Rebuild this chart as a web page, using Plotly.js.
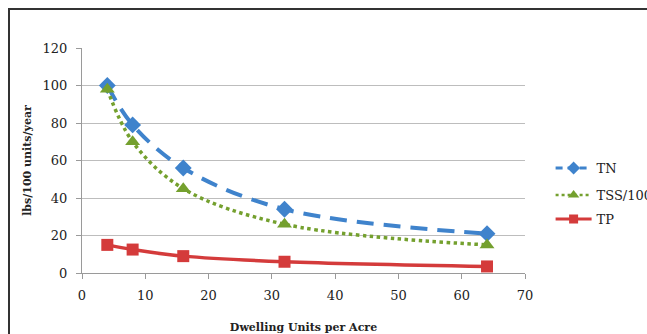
<!DOCTYPE html>
<html>
<head>
<meta charset="utf-8">
<script src="https://cdn.plot.ly/plotly-3.0.1.min.js"></script>
<style>
html,body{margin:0;padding:0;background:#fff;overflow:hidden;}
#chart{width:647px;height:334px;}
#frame{position:absolute;left:8px;top:8px;width:700px;height:400px;border:2px solid #333;pointer-events:none;box-sizing:border-box;}
</style>
</head>
<body>
<div id="chart"></div>
<div id="frame"></div>
<script>
var density = [4, 8, 16, 32, 64];
var tn = [100, 79, 56, 34, 21];
var tss100 = [98, 70, 45, 26, 15];
var tp = [15, 12.5, 9, 6, 3.5];
var seriesNames = ['TN', 'TSS/100', 'TP'];

var serif = '"DejaVu Serif", serif';
var colors = ['#3f83cc', '#74a02e', '#d43b3b'];

var traces = [
  {x: density, y: tn, name: seriesNames[0], type: 'scatter', mode: 'lines+markers', showlegend: false,
   line: {color: colors[0], width: 4, dash: '17px,10px', shape: 'spline'},
   marker: {symbol: 'diamond', size: 13, color: colors[0]}},
  {x: density, y: tss100, name: seriesNames[1], type: 'scatter', mode: 'lines+markers', showlegend: false,
   line: {color: colors[1], width: 3.5, dash: 'dot', shape: 'spline'},
   marker: {symbol: 'triangle-up', size: 13, color: colors[1]}},
  {x: density, y: tp, name: seriesNames[2], type: 'scatter', mode: 'lines+markers', showlegend: false,
   line: {color: colors[2], width: 3.5, shape: 'spline'},
   marker: {symbol: 'square', size: 12, color: colors[2]}},
  {x: [null], y: [null], name: seriesNames[0], type: 'scatter', mode: 'lines+markers', legend: 'legend',
   line: {color: colors[0], width: 3, dash: '7px,5px'}, marker: {symbol: 'diamond', size: 10, color: colors[0]}},
  {x: [null], y: [null], name: seriesNames[1], type: 'scatter', mode: 'lines+markers', legend: 'legend2',
   line: {color: colors[1], width: 2.5, dash: 'dot'}, marker: {symbol: 'triangle-up', size: 10, color: colors[1]}},
  {x: [null], y: [null], name: seriesNames[2], type: 'scatter', mode: 'lines+markers', legend: 'legend3',
   line: {color: colors[2], width: 3}, marker: {symbol: 'square', size: 9, color: colors[2]}}
];

function leg(y){
  return {xref: 'container', yref: 'container', x: 0.851, y: y, xanchor: 'left', yanchor: 'middle',
          bgcolor: 'rgba(0,0,0,0)', font: {family: serif, size: 13, color: '#222'}, itemwidth: 36};
}

var layout = {
  width: 647, height: 334,
  margin: {l: 82, r: 122, t: 48, b: 61},
  paper_bgcolor: '#fff', plot_bgcolor: '#fff',
  showlegend: true,
  font: {family: serif, color: '#222'},
  xaxis: {
    range: [0, 70], tickvals: [0,10,20,30,40,50,60,70], showgrid: false, zeroline: false,
    showline: true, linecolor: '#9a9a9a', linewidth: 1, automargin: false,
    ticks: 'outside', ticklen: 5, tickcolor: '#9a9a9a', ticklabelstandoff: 5,
    tickfont: {family: serif, size: 13, color: '#222'},
    title: {text: '<b>Dwelling Units per Acre</b>', font: {family: serif, size: 11, color: '#222'}, standoff: 22}
  },
  yaxis: {
    range: [0, 120], tickvals: [0,20,40,60,80,100,120], showgrid: true, gridcolor: '#bdbdbd', gridwidth: 1,
    zeroline: false, showline: true, linecolor: '#9a9a9a', linewidth: 1, automargin: false,
    ticks: 'outside', ticklen: 5, tickcolor: '#9a9a9a', ticklabelstandoff: 6,
    tickfont: {family: serif, size: 13, color: '#222'},
    title: {text: '<b>lbs/100 units/year</b>', font: {family: serif, size: 11, color: '#222'}, standoff: 8}
  },
  legend: leg(0.497),
  legend2: leg(0.416),
  legend3: leg(0.344)
};

Plotly.newPlot('chart', traces, layout, {displayModeBar: false, staticPlot: true});
</script>
</body>
</html>
